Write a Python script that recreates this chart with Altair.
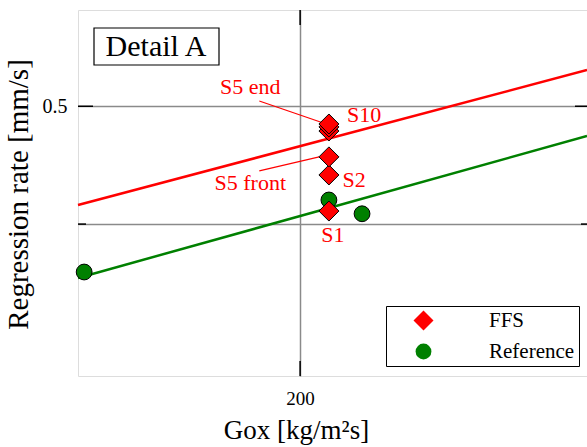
import altair as alt
import pandas as pd

# ---- data ----
series_names = ["Reference", "Reference", "Reference", "FFS", "FFS", "FFS", "FFS", "FFS", "FFS"]
gox_vals = [151.2, 216.7, 207.6, 207.6, 207.6, 207.6, 207.6, 207.6, 207.6]
rate_vals = [0.3653, 0.4079, 0.4187, 0.410, 0.439, 0.4543, 0.4771, 0.4808, 0.4835]

fit_series = ["FFS", "FFS", "Reference", "Reference"]
fit_gox = [150, 290, 150, 290]
fit_rate = [0.4147, 0.5355, 0.3612, 0.4726]

label_text = ["S5 end", "S5 front", "S10", "S2", "S1"]
label_gox = [187.5, 187.5, 217.3, 214.5, 208.7]
label_rate = [0.5186, 0.4324, 0.4918, 0.4348, 0.3918]

leader_gox = [189.7, 189.7]
leader_rate = [0.505, 0.4424]
leader_gox2 = [206.1, 205.0]
leader_rate2 = [0.4844, 0.4543]

x_ticks = [200]
y_ticks = [0.4, 0.5]
y_major = [0.5]
y_minor = [0.4]
x_domain = [150, 290]
y_domain = [0.3, 0.6]

FONT = "Liberation Serif"

pts = pd.DataFrame({"series": series_names, "gox": gox_vals, "rate": rate_vals})
fits = pd.DataFrame({"series": fit_series, "gox": fit_gox, "rate": fit_rate})
labels = pd.DataFrame({"label": label_text, "gox": label_gox, "rate": label_rate})
leaders = pd.DataFrame({"gox": leader_gox, "rate": leader_rate, "gox2": leader_gox2, "rate2": leader_rate2})

xscale = alt.Scale(type="log", domain=x_domain, nice=False)
yscale = alt.Scale(type="log", domain=y_domain, nice=False)

x_enc = alt.X("gox:Q", scale=xscale, title="Gox [kg/m²s]",
              axis=alt.Axis(values=x_ticks, grid=True, gridColor="#8a8a8a", gridWidth=1.5,
                            ticks=False, domain=False, labelFontSize=19, labelPadding=13,
                            labelFont=FONT, labelColor="black", format="d",
                            titleFont=FONT, titleFontSize=27, titleFontWeight="normal",
                            titleColor="black", titleX=218, titleY=62,
                            titleBaseline="alphabetic", titleAlign="center"))
y_enc = alt.Y("rate:Q", scale=yscale, title="Regression rate [mm/s]",
              axis=alt.Axis(values=y_ticks, grid=True, gridColor="#8a8a8a", gridWidth=1.5,
                            ticks=False, domain=False, labelFontSize=20, labelPadding=11,
                            labelFont=FONT, labelColor="black",
                            labelExpr="datum.value == 0.5 ? '0.5' : ''",
                            titleFont=FONT, titleFontSize=29, titleFontWeight="normal",
                            titleColor="black", titleX=-51, titleY=184, titleAngle=270,
                            titleBaseline="alphabetic", titleAlign="center"))

red_line = alt.Chart(fits).transform_filter(alt.datum.series == "FFS").mark_line(
    color="#ff0000", strokeWidth=2.5).encode(x=x_enc, y=y_enc)
green_line = alt.Chart(fits).transform_filter(alt.datum.series == "Reference").mark_line(
    color="#008000", strokeWidth=2.5).encode(x=x_enc, y=y_enc)

leader_lines = alt.Chart(leaders).mark_rule(color="#ff0000", strokeWidth=1.2).encode(
    x=x_enc, y=y_enc, x2="gox2:Q", y2="rate2:Q")


def legend():
    return alt.Legend(title=None, orient="none", legendX=308, legendY=296, padding=4,
                      symbolOffset=23, labelOffset=55, rowPadding=7, labelFont=FONT,
                      labelFontSize=21, labelColor="black", strokeColor="black",
                      fillColor="white", symbolStrokeColor="black", symbolStrokeWidth=1,
                      symbolOpacity=1)


points = alt.Chart(pts).mark_point(filled=True, stroke="black", strokeWidth=1, opacity=1).encode(
    x=x_enc, y=y_enc,
    color=alt.Color("series:N", scale=alt.Scale(domain=["FFS", "Reference"], range=["#ff0000", "#008000"]),
                    legend=legend()),
    shape=alt.Shape("series:N", scale=alt.Scale(domain=["FFS", "Reference"], range=["diamond", "circle"]),
                    legend=legend()),
    size=alt.Size("series:N", scale=alt.Scale(domain=["FFS", "Reference"], range=[400, 250]),
                  legend=legend()),
)

texts = alt.Chart(labels).mark_text(color="#ff0000", font=FONT, fontSize=22,
                                     align="center", baseline="middle").encode(
    x=x_enc, y=y_enc, text="label:N")

# tick marks (inward)
one = pd.DataFrame({"k": [0]})
xt = pd.DataFrame({"gox": x_ticks})
ymaj = pd.DataFrame({"rate": y_major})
ymin = pd.DataFrame({"rate": y_minor})
tick_bottom = alt.Chart(xt).mark_rule(color="black", strokeWidth=1.5).encode(
    x=x_enc, y=alt.value(351), y2=alt.value(366))
tick_top = alt.Chart(xt).mark_rule(color="black", strokeWidth=1.5).encode(
    x=x_enc, y=alt.value(0), y2=alt.value(15))
tick_left_major = alt.Chart(ymaj).mark_rule(color="black", strokeWidth=1.5).encode(
    y=y_enc, x=alt.value(0), x2=alt.value(15))
tick_left_minor = alt.Chart(ymin).mark_rule(color="black", strokeWidth=1.5).encode(
    y=y_enc, x=alt.value(0), x2=alt.value(8))
tick_right_major = alt.Chart(ymaj).mark_rule(color="black", strokeWidth=1.5).encode(
    y=y_enc, x=alt.value(497), x2=alt.value(509))
tick_right_minor = alt.Chart(ymin).mark_rule(color="black", strokeWidth=1.5).encode(
    y=y_enc, x=alt.value(503), x2=alt.value(509))

detail_box = alt.Chart(one).mark_rect(fill="white", stroke="black", strokeWidth=1.2).encode(
    x=alt.value(16), x2=alt.value(141), y=alt.value(18), y2=alt.value(55))
detail_text = alt.Chart(one).mark_text(text="Detail A", font=FONT, fontSize=30, color="black",
                                       align="center", baseline="alphabetic").encode(
    x=alt.value(78), y=alt.value(45.5))

chart = alt.layer(
    red_line, green_line, leader_lines,
    tick_bottom, tick_top, tick_left_major, tick_left_minor, tick_right_major, tick_right_minor,
    points, texts, detail_box, detail_text,
).properties(
    width=509, height=366,
    padding={"left": 78, "top": 10, "right": 0, "bottom": 71},
    autosize=alt.AutoSizeParams(type="none"),
).configure_view(
    stroke="black", strokeWidth=1.5
).configure_text(
    font=FONT
).configure_legend(
    labelFont=FONT
).configure(font=FONT)

chart.save("out.html", embed_options={"renderer": "svg", "actions": False})
